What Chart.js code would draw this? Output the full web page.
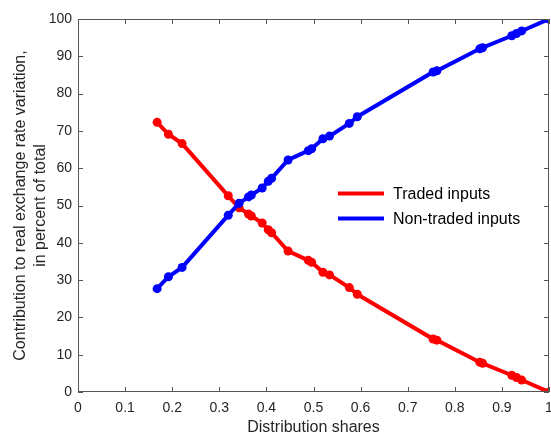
<!DOCTYPE html>
<html><head><meta charset="utf-8">
<script src="https://cdn.jsdelivr.net/npm/chart.js@4/dist/chart.umd.min.js"></script>
<style>html,body{margin:0;padding:0;background:#fff}#wrap{width:551px;height:439px}</style>
</head><body><div id="wrap"><canvas id="c" width="551" height="439"></canvas></div>
<script>
const distributionShares = [0.168, 0.192, 0.221, 0.319, 0.342, 0.362, 0.368, 0.391, 0.404, 0.411, 0.446, 0.489, 0.496, 0.520, 0.534, 0.576, 0.593, 0.754, 0.762, 0.853, 0.859, 0.921, 0.931, 0.942, 1.0];
const tradedInputs = [72.3, 69.1, 66.6, 52.6, 49.4, 47.7, 47.2, 45.3, 43.5, 42.7, 37.8, 35.3, 34.8, 32.1, 31.4, 28.0, 26.2, 14.2, 13.9, 8.0, 7.7, 4.5, 3.9, 3.2, 0];
const nonTradedInputs = [27.7, 30.9, 33.4, 47.4, 50.6, 52.3, 52.8, 54.7, 56.5, 57.3, 62.2, 64.7, 65.2, 67.9, 68.6, 72.0, 73.8, 85.8, 86.1, 92.0, 92.3, 95.5, 96.1, 96.8, 100];
const seriesLabels = ["Traded inputs", "Non-traded inputs"];
const xTitle = "Distribution shares";
const yTitle = ["Contribution to real exchange rate variation,", "in percent of total"];

const FONT = "'Liberation Sans', Arial, sans-serif";
const AX = '#262626';

function pts(xs, ys){ return xs.map((x,i)=>({x:x, y:ys[i]})); }

const boxPlugin = {
  id: 'box',
  afterDatasetsDraw(chart){
    const {ctx, chartArea:a, scales} = chart;
    ctx.save();
    ctx.strokeStyle = '#555';
    ctx.lineWidth = 1;
    ctx.beginPath();
    ctx.rect(a.left+0.5, a.top+0.5, a.right-a.left-1, a.bottom-a.top-1);
    ctx.stroke();
    const L = 5;
    ctx.beginPath();
    scales.x.ticks.forEach(t=>{
      const px = Math.round(scales.x.getPixelForValue(t.value))+0.5;
      ctx.moveTo(px, a.bottom); ctx.lineTo(px, a.bottom-L);
      ctx.moveTo(px, a.top); ctx.lineTo(px, a.top+L);
    });
    scales.y.ticks.forEach(t=>{
      const py = Math.round(scales.y.getPixelForValue(t.value))+0.5;
      ctx.moveTo(a.left, py); ctx.lineTo(a.left+L, py);
      ctx.moveTo(a.right, py); ctx.lineTo(a.right-L, py);
    });
    ctx.stroke();
    ctx.restore();
  },
  afterDraw(chart){
    const {ctx} = chart;
    ctx.save();
    ctx.font = '16px ' + FONT;
    ctx.textBaseline = 'middle';
    ctx.textAlign = 'left';
    const rows = [193.5, 218.5];
    chart.data.datasets.forEach((ds,i)=>{
      ctx.strokeStyle = ds.borderColor;
      ctx.lineWidth = 4;
      ctx.beginPath();
      ctx.moveTo(338, rows[i]); ctx.lineTo(384, rows[i]);
      ctx.stroke();
      ctx.fillStyle = '#000';
      ctx.fillText(ds.label, 393, rows[i]+1);
    });
    ctx.restore();
  }
};

new Chart(document.getElementById('c'), {
  type: 'line',
  data: {
    datasets: [
      {label: seriesLabels[0], data: pts(distributionShares, tradedInputs), borderColor:'#ff0000', backgroundColor:'#ff0000', pointBackgroundColor:'#ff0000', order:1},
      {label: seriesLabels[1], data: pts(distributionShares, nonTradedInputs), borderColor:'#0000ff', backgroundColor:'#0000ff', pointBackgroundColor:'#0000ff', order:0}
    ]
  },
  options: {
    responsive: false,
    animation: false,
    devicePixelRatio: 1,
    layout: {autoPadding: false, padding: {top: 19, right: 2, left: 0, bottom: 0}},
    elements: {
      line: {borderWidth: 4, tension: 0, fill: false},
      point: {radius: 4.5, borderWidth: 0, hoverRadius: 4.5}
    },
    datasets: {line: {clip: 0}},
    plugins: {legend: {display: false}, tooltip: {enabled: false}},
    scales: {
      x: {
        type: 'linear', min: 0, max: 1,
        ticks: {stepSize: 0.1, color: AX, font: {family: FONT, size: 14}, padding: 8, maxRotation: 0,
          callback: v => String(Math.round(v*10)/10)},
        grid: {display: false, drawTicks: false},
        border: {display: false},
        title: {display: true, text: xTitle, color: AX, font: {family: FONT, size: 16}, padding: {top: 0, bottom: 2}},
        afterFit: s => { s.height = 47; s.paddingLeft = 0; s.paddingRight = 0; }
      },
      y: {
        type: 'linear', min: 0, max: 100,
        ticks: {stepSize: 10, color: AX, font: {family: FONT, size: 14}, padding: 6},
        grid: {display: false, drawTicks: false},
        border: {display: false},
        title: {display: true, text: yTitle, color: AX, font: {family: FONT, size: 16, lineHeight: 1.25}, padding: {top: 11, bottom: 0}},
        afterFit: s => { s.width = 78; s.paddingTop = 0; s.paddingBottom = 0; }
      }
    }
  },
  plugins: [boxPlugin]
});
</script></body></html>
